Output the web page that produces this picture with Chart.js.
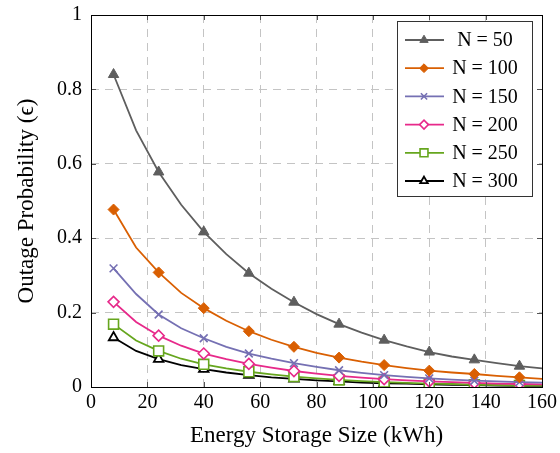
<!DOCTYPE html>
<html>
<head>
<meta charset="utf-8">
<script src="https://cdn.jsdelivr.net/npm/chart.js@4.4.1/dist/chart.umd.min.js"></script>
<style>
  html, body { margin: 0; padding: 0; background: #fff; }
  canvas { display: block; }
</style>
</head>
<body>
<canvas id="outageChart" width="560" height="453"></canvas>
<script>
// storage sizes (kWh); markers sit on every other point
const storageSize = [8, 16, 24, 32, 40, 48, 56, 64, 72, 80, 88, 96, 104, 112, 120, 128, 136, 144, 152, 160];

const seriesNames = ['N = 50', 'N = 100', 'N = 150', 'N = 200', 'N = 250', 'N = 300'];

const n50  = [0.840, 0.690, 0.578, 0.490, 0.417, 0.357, 0.306, 0.264, 0.228, 0.196, 0.169, 0.146, 0.126, 0.109, 0.094, 0.082, 0.073, 0.064, 0.056, 0.050];
const n100 = [0.477, 0.375, 0.308, 0.253, 0.212, 0.178, 0.150, 0.127, 0.108, 0.092, 0.079, 0.068, 0.059, 0.051, 0.044, 0.039, 0.035, 0.030, 0.026, 0.022];
const n150 = [0.319, 0.250, 0.195, 0.158, 0.131, 0.108, 0.090, 0.076, 0.064, 0.054, 0.045, 0.038, 0.032, 0.027, 0.023, 0.020, 0.017, 0.015, 0.013, 0.012];
const n200 = [0.229, 0.175, 0.138, 0.111, 0.090, 0.075, 0.062, 0.052, 0.043, 0.036, 0.030, 0.025, 0.021, 0.018, 0.015, 0.013, 0.011, 0.009, 0.008, 0.007];
const n250 = [0.169, 0.125, 0.097, 0.076, 0.061, 0.050, 0.041, 0.034, 0.028, 0.023, 0.019, 0.016, 0.013, 0.011, 0.009, 0.008, 0.006, 0.005, 0.004, 0.004];
const n300 = [0.133, 0.097, 0.075, 0.059, 0.048, 0.039, 0.032, 0.026, 0.022, 0.018, 0.015, 0.012, 0.010, 0.009, 0.007, 0.006, 0.005, 0.004, 0.003, 0.003];

const xTicks = [0, 20, 40, 60, 80, 100, 120, 140, 160];
const yTickLabels = ['0', '0.2', '0.4', '0.6', '0.8', '1'];

const FONT = '"Liberation Serif", "DejaVu Serif", serif';

function markEvery(r) {
    return storageSize.map((_, i) => (i % 2 === 0 && i < storageSize.length - 1) ? r : 0);
}

function series(label, values, color, style) {
    return {
        label: label,
        data: storageSize.map((x, i) => ({ x: x, y: values[i] })),
        borderColor: color,
        borderWidth: 1.8,
        tension: 0,
        fill: false,
        pointStyle: style.shape,
        pointRadius: markEvery(style.radius),
        pointHoverRadius: markEvery(style.radius),
        pointBackgroundColor: style.fill,
        pointBorderColor: color,
        pointBorderWidth: style.bw
    };
}

const datasets = [
    series(seriesNames[0], n50, '#5e5e5e', { shape: 'triangle', radius: 6, fill: '#5e5e5e', bw: 1 }),
    series(seriesNames[1], n100, '#d95f02', { shape: 'rectRot', radius: 5.5, fill: '#d95f02', bw: 1 }),
    series(seriesNames[2], n150, '#7570b3', { shape: 'crossRot', radius: 5.5, fill: '#7570b3', bw: 1.6 }),
    series(seriesNames[3], n200, '#e7298a', { shape: 'rectRot', radius: 5.5, fill: '#ffffff', bw: 1.6 }),
    series(seriesNames[4], n250, '#66a61e', { shape: 'rect', radius: 7, fill: '#ffffff', bw: 1.6 }),
    series(seriesNames[5], n300, '#000000', { shape: 'triangle', radius: 5.5, fill: '#ffffff', bw: 1.8 })
];

// box around the plot plus the little inward ticks on all four sides
const frameBox = {
    id: 'frameBox',
    afterDatasetsDraw(chart) {
        const { ctx, chartArea: a, scales } = chart;
        ctx.save();
        ctx.strokeStyle = '#555';
        ctx.lineWidth = 1;
        ctx.beginPath();
        xTicks.forEach(v => {
            const px = Math.round(scales.x.getPixelForValue(v)) + 0.5;
            ctx.moveTo(px, a.bottom); ctx.lineTo(px, a.bottom - 5);
            ctx.moveTo(px, a.top); ctx.lineTo(px, a.top + 5);
        });
        yTickLabels.forEach(t => {
            const py = Math.round(scales.y.getPixelForValue(parseFloat(t))) + 0.5;
            ctx.moveTo(a.left, py); ctx.lineTo(a.left + 5, py);
            ctx.moveTo(a.right, py); ctx.lineTo(a.right - 5, py);
        });
        ctx.stroke();
        ctx.strokeStyle = '#000';
        ctx.strokeRect(Math.round(a.left) + 0.5, Math.round(a.top) + 0.5,
                       Math.round(a.right - a.left), Math.round(a.bottom - a.top));
        ctx.restore();
    }
};

// pgfplots-style legend: boxed, line sample with marker, centered text
const boxLegend = {
    id: 'boxLegend',
    afterDraw(chart) {
        const { ctx } = chart;
        const left = 397, top = 21, w = 135, h = 175, rowH = 28.2;
        ctx.save();
        ctx.fillStyle = '#fff';
        ctx.fillRect(left, top, w, h);
        ctx.strokeStyle = '#333';
        ctx.lineWidth = 1;
        ctx.strokeRect(left + 0.5, top + 0.5, w, h);
        chart.data.datasets.forEach((ds, i) => {
            const y = top + 19 + i * rowH;
            ctx.strokeStyle = ds.borderColor;
            ctx.lineWidth = ds.borderWidth;
            ctx.beginPath();
            ctx.moveTo(left + 8, y);
            ctx.lineTo(left + 47, y);
            ctx.stroke();
            ctx.fillStyle = ds.pointBackgroundColor;
            ctx.strokeStyle = ds.pointBorderColor;
            ctx.lineWidth = ds.pointBorderWidth;
            Chart.helpers.drawPoint(ctx, {
                pointStyle: ds.pointStyle,
                radius: Math.max(...ds.pointRadius) * 0.8,
                rotation: 0,
                borderWidth: ds.pointBorderWidth
            }, left + 27, y);
            ctx.fillStyle = '#000';
            ctx.font = '20px ' + FONT;
            ctx.textAlign = 'center';
            ctx.textBaseline = 'middle';
            ctx.fillText(ds.label, left + 88, y + 1);
        });
        ctx.restore();
    }
};

const ctx = document.getElementById('outageChart').getContext('2d');
new Chart(ctx, {
    type: 'line',
    data: { datasets: datasets },
    options: {
        responsive: false,
        animation: false,
        devicePixelRatio: 1,
        layout: { padding: { left: 0, right: 18, top: 15, bottom: 0 } },
        plugins: {
            legend: { display: false },
            tooltip: { enabled: false }
        },
        scales: {
            x: {
                type: 'linear',
                min: 0,
                max: 160,
                afterFit: s => { s.height = 66; s.paddingLeft = 0; s.paddingRight = 0; },
                afterBuildTicks: s => { s.ticks = xTicks.map(v => ({ value: v })); },
                ticks: {
                    color: '#000',
                    padding: 4,
                    maxRotation: 0,
                    font: { family: FONT, size: 20 },
                    callback: v => String(v)
                },
                grid: { color: '#c4c4c4', drawTicks: false, lineWidth: 1 },
                border: { display: false, dash: [8, 6] },
                title: {
                    display: true,
                    text: 'Energy Storage Size (kWh)',
                    color: '#000',
                    font: { family: FONT, size: 23 },
                    padding: { top: 0, bottom: 3 }
                }
            },
            y: {
                type: 'linear',
                min: 0,
                max: 1,
                afterFit: s => { s.width = 91; s.paddingTop = 0; s.paddingBottom = 0; },
                afterBuildTicks: s => { s.ticks = yTickLabels.map(t => ({ value: parseFloat(t) })); },
                ticks: {
                    color: '#000',
                    padding: 9,
                    font: { family: FONT, size: 20 },
                    callback: (v, i) => yTickLabels[i]
                },
                grid: { color: '#c4c4c4', drawTicks: false, lineWidth: 1 },
                border: { display: false, dash: [8, 6] },
                title: {
                    display: true,
                    text: 'Outage Probability (ϵ)',
                    color: '#000',
                    font: { family: FONT, size: 23 },
                    padding: { top: 13, bottom: 0 }
                }
            }
        }
    },
    plugins: [frameBox, boxLegend]
});
</script>
</body>
</html>
